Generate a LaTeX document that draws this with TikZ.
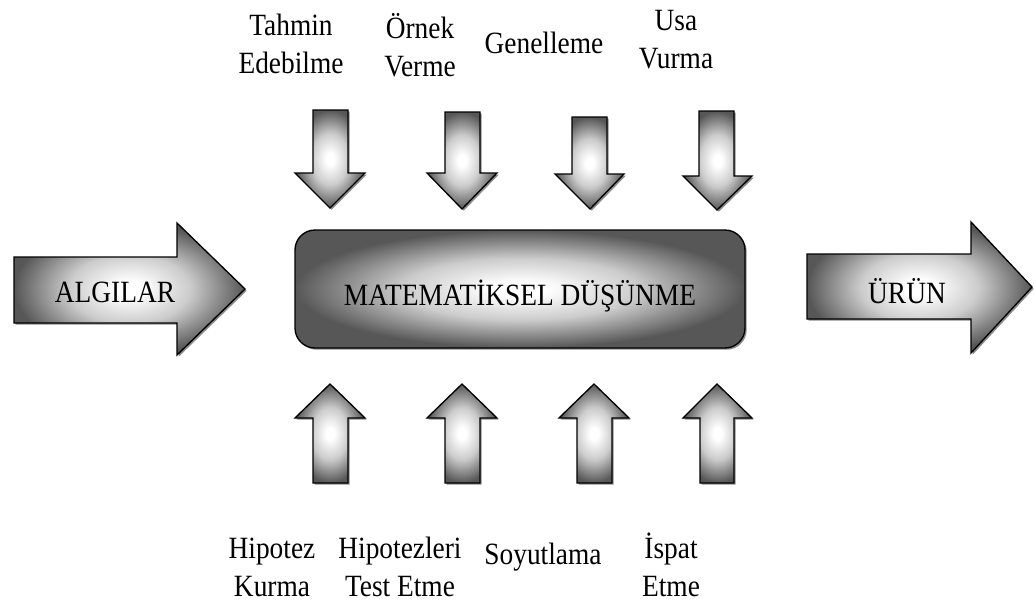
\documentclass[tikz,border=0pt]{standalone}
\usepackage{fontspec}
\setmainfont{Liberation Serif}[FakeStretch=0.885]
\usetikzlibrary{shadows}

\pgfdeclareradialshading{parlak}{\pgfpoint{0bp}{0bp}}{color(0bp)=(white); color(3bp)=(white); color(13bp)=(black!20); color(25bp)=(black!66); color(50bp)=(black!66)}

\begin{document}
\begin{tikzpicture}[x=0.75pt,y=-0.75pt,
    blok/.style={draw=black,line width=1pt,shading=parlak,
        drop shadow={shadow xshift=1.3pt,shadow yshift=-1.3pt,fill=black!45,opacity=1}},
    etiket/.style={font=\fontsize{23.2}{28}\selectfont,align=center,inner sep=0pt,anchor=base}]

    \useasboundingbox (0,0) rectangle (1035,604);

    % Entrada y salida
    \path[blok] (14,257) -- (177,257) -- (177,223) -- (245,289) -- (177,355) -- (177,323) -- (14,323) -- cycle;
    \path[blok] (807,254) -- (971,254) -- (971,222) -- (1032,287) -- (971,353) -- (971,319) -- (807,319) -- cycle;
    \node[etiket] (algilar) at (115,302) {ALGILAR};
    \node[etiket] (urun) at (907,303) {ÜRÜN};

    % Caja central
    \path[blok,rounded corners=15pt] (295,230) rectangle (745,348);
    \node[etiket] (dusunme) at (520,305) {MATEMATİKSEL DÜŞÜNME};

    % Flechas de arriba
    \path[blok] (313,110) -- (348,110) -- (348,173) -- (365,173) -- (330,208) -- (295,173) -- (313,173) -- cycle;
    \path[blok] (445,112) -- (480,112) -- (480,173) -- (497,173) -- (462,209) -- (427,173) -- (445,173) -- cycle;
    \path[blok] (572,117) -- (607,117) -- (607,174) -- (624,174) -- (590,209) -- (555,174) -- (572,174) -- cycle;
    \path[blok] (699,111) -- (734,111) -- (734,176) -- (752,176) -- (717,210) -- (683,176) -- (699,176) -- cycle;

    % Flechas de abajo
    \path[blok] (313,483) -- (348,483) -- (348,418) -- (365,418) -- (330,384) -- (295,418) -- (313,418) -- cycle;
    \path[blok] (445,483) -- (480,483) -- (480,418) -- (497,418) -- (462,384) -- (427,418) -- (445,418) -- cycle;
    \path[blok] (577,483) -- (612,483) -- (612,418) -- (629,418) -- (594,384) -- (559,418) -- (577,418) -- cycle;
    \path[blok] (700,483) -- (734,483) -- (734,418) -- (752,418) -- (717,384) -- (683,418) -- (700,418) -- cycle;

    % Etiquetas de arriba
    \node[etiket] (tahmin) at (291,73) {Tahmin\\Edebilme};
    \node[etiket] (ornek) at (420,76) {Örnek\\Verme};
    \node[etiket] (genelleme) at (544,53) {Genelleme};
    \node[etiket] (usa) at (676,68) {Usa\\Vurma};

    % Etiquetas de abajo
    \node[etiket] (hipotez) at (272,596) {Hipotez\\Kurma};
    \node[etiket] (test) at (400,596) {Hipotezleri\\Test Etme};
    \node[etiket] (soyutlama) at (543,564) {Soyutlama};
    \node[etiket] (ispat) at (671,596) {İspat\\Etme};

\end{tikzpicture}
\end{document}
